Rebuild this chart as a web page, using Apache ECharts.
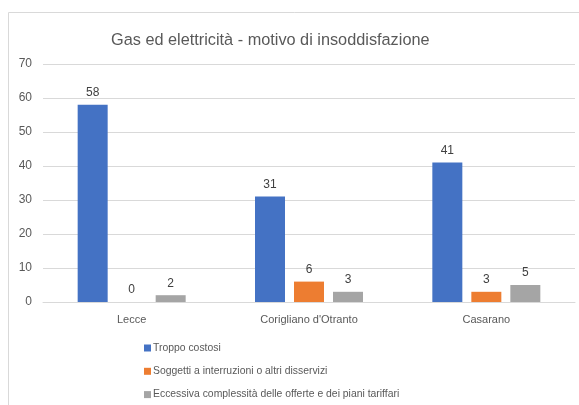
<!DOCTYPE html>
<html>
<head>
<meta charset="utf-8">
<script src="https://cdn.jsdelivr.net/npm/echarts@6/dist/echarts.min.js"></script>
<style>
  html, body { margin: 0; padding: 0; background: #fff; }
  #chart { width: 579px; height: 405px; }
</style>
</head>
<body>
<div id="chart"></div>
<script>
// dati
const categorie = ["Lecce", "Corigliano d'Otranto", "Casarano"];
const troppoCostosi = [58, 31, 41];
const interruzioni = [0, 6, 3];
const complessita = [2, 3, 5];
const nomiSerie = [
  "Troppo costosi",
  "Soggetti a interruzioni o altri disservizi",
  "Eccessiva complessità delle offerte e dei piani tariffari",
];
const colori = ["#4472C4", "#ED7D31", "#A5A5A5"];

const font = "Liberation Sans";
const myChart = echarts.init(document.getElementById("chart"));

const serie = [troppoCostosi, interruzioni, complessita].map((valori, i) => ({
  name: nomiSerie[i],
  type: "bar",
  data: valori,
  barWidth: 30,
  barGap: "30%",
  itemStyle: { color: colori[i] },
  label: {
    show: true,
    position: "top",
    distance: 6,
    color: "#404040",
    fontFamily: font,
    fontSize: 12,
  },
}));

const option = {
  animation: false,
  textStyle: { fontFamily: font },
  graphic: [
    {
      type: "rect",
      shape: { x: 8.5, y: 12.5, width: 640, height: 440 },
      style: { fill: "none", stroke: "#D9D9D9", lineWidth: 1 },
      silent: true,
    },
  ],
  title: {
    text: "Gas ed elettricità - motivo di insoddisfazione",
    left: 106,
    top: 28,
    textStyle: {
      fontFamily: font,
      fontSize: 16.3,
      fontWeight: "normal",
      color: "#595959",
    },
  },
  legend: {
    orient: "vertical",
    left: 144,
    top: 343,
    padding: 0,
    itemWidth: 7,
    itemHeight: 7,
    itemGap: 13.3,
    icon: "rect",
    data: nomiSerie,
    textStyle: {
      fontFamily: font,
      fontSize: 10.4,
      color: "#595959",
      padding: [0, 0, 0, -3],
    },
  },
  grid: {
    left: 43,
    right: 4,
    top: 64,
    bottom: 103,
  },
  xAxis: {
    type: "category",
    data: categorie,
    axisLine: { lineStyle: { color: "#D9D9D9" } },
    axisTick: { show: false },
    axisLabel: {
      margin: 12,
      color: "#595959",
      fontFamily: font,
      fontSize: 11,
    },
  },
  yAxis: {
    type: "value",
    min: 0,
    max: 70,
    interval: 10,
    axisLine: { show: false },
    axisTick: { show: false },
    splitLine: { lineStyle: { color: "#D9D9D9" } },
    axisLabel: {
      margin: 11,
      color: "#595959",
      fontFamily: font,
      fontSize: 12,
    },
  },
  series: serie,
};
myChart.setOption(option);
</script>
</body>
</html>
